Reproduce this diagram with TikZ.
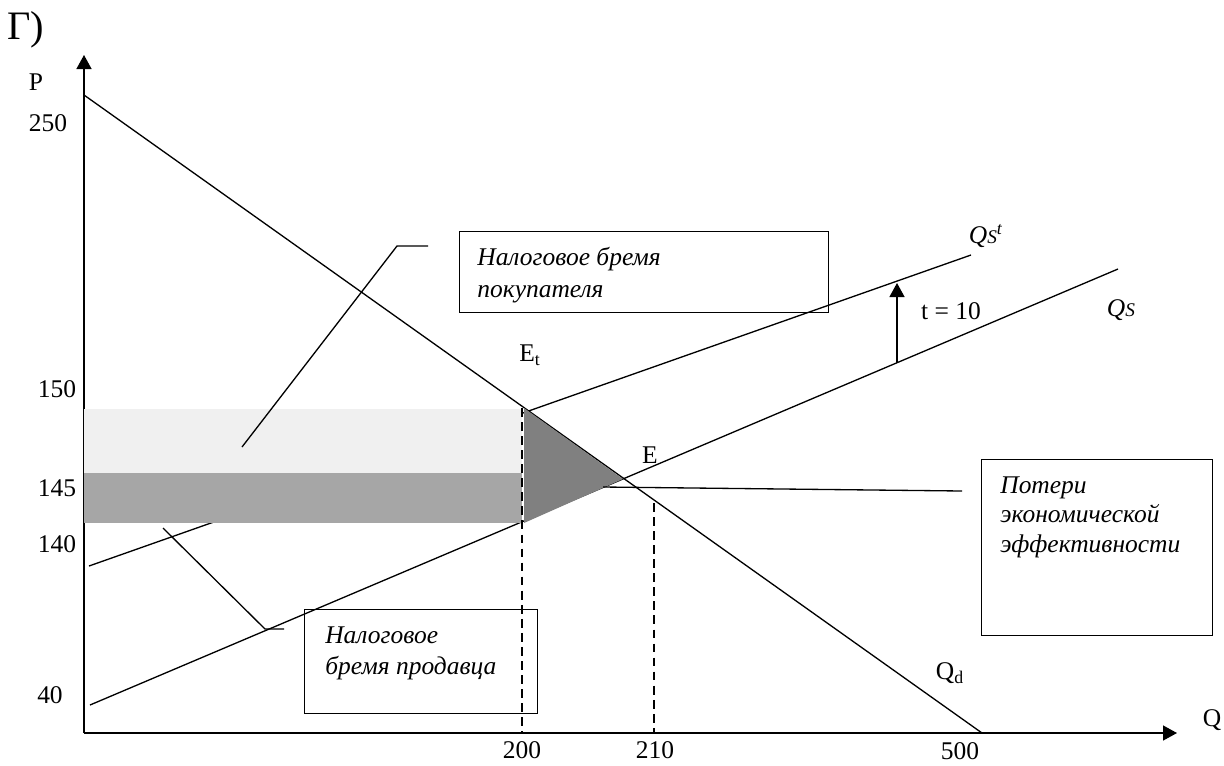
\documentclass[tikz,border=0pt]{standalone}
\usepackage{fontspec}
\setmainfont{Liberation Serif}
\usetikzlibrary{arrows.meta}
\begin{document}
\begin{tikzpicture}[x=0.02cm,y=-0.02cm,
  ln/.style={line width=0.75pt},
  axisln/.style={ln,-{Triangle[width=0.3cm,length=0.28cm]}},
  dsh/.style={ln,dash pattern=on 5pt off 3pt},
  lbl/.style={inner sep=0pt,font=\fontsize{14.5}{17.5}\selectfont},
  frame/.style={draw,line width=0.75pt,inner sep=0pt,anchor=north west},
  boxtxt/.style={inner sep=0pt,align=left,anchor=north west,font=\fontsize{14.5}{18.1}\selectfont\itshape}]
\useasboundingbox (0,0) rectangle (1224,765);
\definecolor{lightband}{HTML}{F0F0F0}
\definecolor{darkband}{HTML}{A6A6A6}
\definecolor{trifill}{HTML}{808080}
% points
\coordinate (O) at (84,733);
\coordinate (Ptop) at (84,55);
\coordinate (Qend) at (1177,733);
\coordinate (D1) at (84,95);
\coordinate (D2) at (982,733);
\coordinate (S1) at (90,705);
\coordinate (S2) at (1118,269);
\coordinate (T1) at (89,566);
\coordinate (T2) at (971,255);
\coordinate (Et) at (524,408);
\coordinate (E) at (623,479);
\coordinate (B) at (524,523);
% axes and curves
\draw[axisln] (O) -- (Ptop);
\draw[axisln] (O) -- (Qend);
\draw[ln] (D1) -- (D2);
\draw[ln] (S1) -- (S2);
\draw[ln] (T1) -- (T2);
% shaded areas
\fill[lightband] (84,409) rectangle (522,473);
\fill[darkband] (84,473) rectangle (522,523);
\fill[trifill] (Et) -- (E) -- (B) -- cycle;
% tax arrow
\coordinate (TA1) at (897,363);
\coordinate (TA2) at (897,283);
\draw[axisln] (TA1) -- (TA2);
% dashed
\coordinate (X200t) at (522,408);
\coordinate (X200b) at (522,733);
\coordinate (X210t) at (654,503);
\coordinate (X210b) at (654,733);
\draw[dsh] (X200t) -- (X200b);
\draw[dsh] (X210t) -- (X210b);
% boxes
\node[frame,minimum width=7.38cm,minimum height=1.62cm] (buyer) at (459,231) {};
\node[frame,minimum width=4.66cm,minimum height=2.08cm] (seller) at (304,609) {};
\node[frame,minimum width=4.62cm,minimum height=3.52cm] (loss) at (981,459) {};
\node[boxtxt] (buyerT) at (477,247) {Налоговое бремя\\покупателя};
\node[boxtxt] (sellerT) at (325,626) {Налоговое\\бремя продавца};
\node[boxtxt,font=\fontsize{14.5}{17}\selectfont\itshape] (lossT) at (1000,476) {Потери\\экономической\\эффективности};
% leaders
\coordinate (bl1) at (242,447);
\coordinate (bl2) at (397,246);
\coordinate (bl3) at (428,246);
\draw[ln] (bl1) -- (bl2) -- (bl3);
\coordinate (sl1) at (163,528);
\coordinate (sl2) at (265,629);
\coordinate (sl3) at (284,629);
\draw[ln] (sl1) -- (sl2) -- (sl3);
\coordinate (ll1) at (603,487);
\coordinate (ll2) at (962,491);
\draw[ln] (ll1) -- (ll2);
% labels
\node[lbl,font=\fontsize{23}{26}\selectfont] (title) at (26,30) {Г)};
\node[lbl] (Plab) at (36,82) {P};
\node[lbl] (y250) at (48,123) {250};
\node[lbl] (y150) at (57,389) {150};
\node[lbl] (y145) at (57,488) {145};
\node[lbl] (y140) at (57,544) {140};
\node[lbl] (y40) at (50,695) {40};
\node[lbl] (x200) at (522,750) {200};
\node[lbl] (x210) at (655,750) {210};
\node[lbl] (x500) at (960,751) {500};
\node[lbl] (Qlab) at (1212,720) {Q};
\node[lbl] (Qd) at (950,673) {Q\textsubscript{d}};
\node[lbl] (EtLab) at (530,355) {E\textsubscript{t}};
\node[lbl] (ELab) at (650,455) {E};
\node[lbl] (tLab) at (951,311) {t = 10};
\node[lbl] (QStLab) at (986,236) {\textit{Q{\fontsize{11}{11}\selectfont S}}\textsuperscript{\textit{t}}};
\node[lbl] (QSLab) at (1121,310) {\textit{Q{\fontsize{11}{11}\selectfont S}}};
\end{tikzpicture}
\end{document}
